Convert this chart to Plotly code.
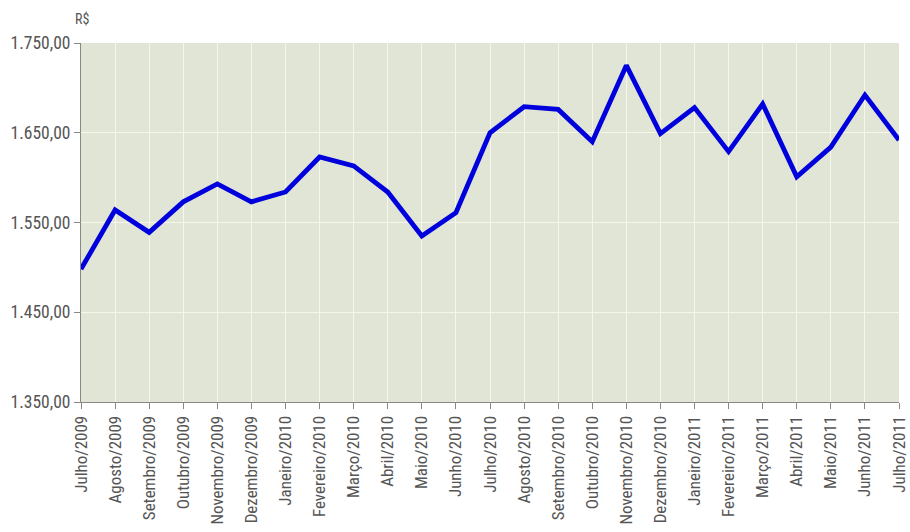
import plotly.graph_objects as go

months = ["Julho/2009", "Agosto/2009", "Setembro/2009", "Outubro/2009", "Novembro/2009",
          "Dezembro/2009", "Janeiro/2010", "Fevereiro/2010", "Março/2010", "Abril/2010",
          "Maio/2010", "Junho/2010", "Julho/2010", "Agosto/2010", "Setembro/2010",
          "Outubro/2010", "Novembro/2010", "Dezembro/2010", "Janeiro/2011", "Fevereiro/2011",
          "Março/2011", "Abril/2011", "Maio/2011", "Junho/2011", "Julho/2011"]
values = [1498, 1564, 1539, 1573, 1593, 1573, 1584, 1623, 1613, 1584, 1535, 1561,
          1650, 1679, 1676, 1640, 1725, 1649, 1678, 1629, 1682, 1601, 1634, 1692, 1642]
y_ticks = [1350, 1450, 1550, 1650, 1750]

FONT = "Liberation Sans Narrow, Roboto Condensed, Arial Narrow, sans-serif"

fig = go.Figure(go.Scatter(
    x=list(range(len(months))), y=values, mode="lines",
    line=dict(color="#0000dd", width=4.8),
    hoverinfo="skip",
))

fig.update_layout(
    width=910, height=532,
    margin=dict(l=81, r=11, t=43, b=130),
    paper_bgcolor="white",
    plot_bgcolor="#e1e5d5",
    separators=",.",
    showlegend=False,
    font=dict(family=FONT, color="#555555", size=15),
    annotations=[dict(text="R$", xref="paper", yref="paper", x=0, y=1,
                      xanchor="center", yanchor="bottom", yshift=14, xshift=1,
                      showarrow=False, font=dict(family=FONT, size=14, color="#555555"))],
)
fig.update_xaxes(
    range=[0, len(months) - 1], automargin=False,
    tickmode="array", tickvals=list(range(len(months))), ticktext=months,
    tickangle=-90, ticks="outside", ticklen=6, tickcolor="#888888",
    ticklabeloverflow="allow",
    showline=True, linecolor="#888888", linewidth=1,
    showgrid=True, gridcolor="#f6f6ea", gridwidth=1.2,
    zeroline=False, tickfont=dict(size=17),
)
fig.update_yaxes(
    range=[1350, 1750], automargin=False, tickmode="array", tickvals=y_ticks, tickformat=",.2f",
    ticks="outside", ticklen=6, tickcolor="#888888",
    showline=True, linecolor="#888888", linewidth=1,
    showgrid=True, gridcolor="#f6f6ea", gridwidth=1.2,
    zeroline=False, tickfont=dict(size=17.5),
)

fig.write_html("out.html", config={"displayModeBar": False},
               post_script="document.body.style.margin='0';document.body.style.overflow='hidden';")
